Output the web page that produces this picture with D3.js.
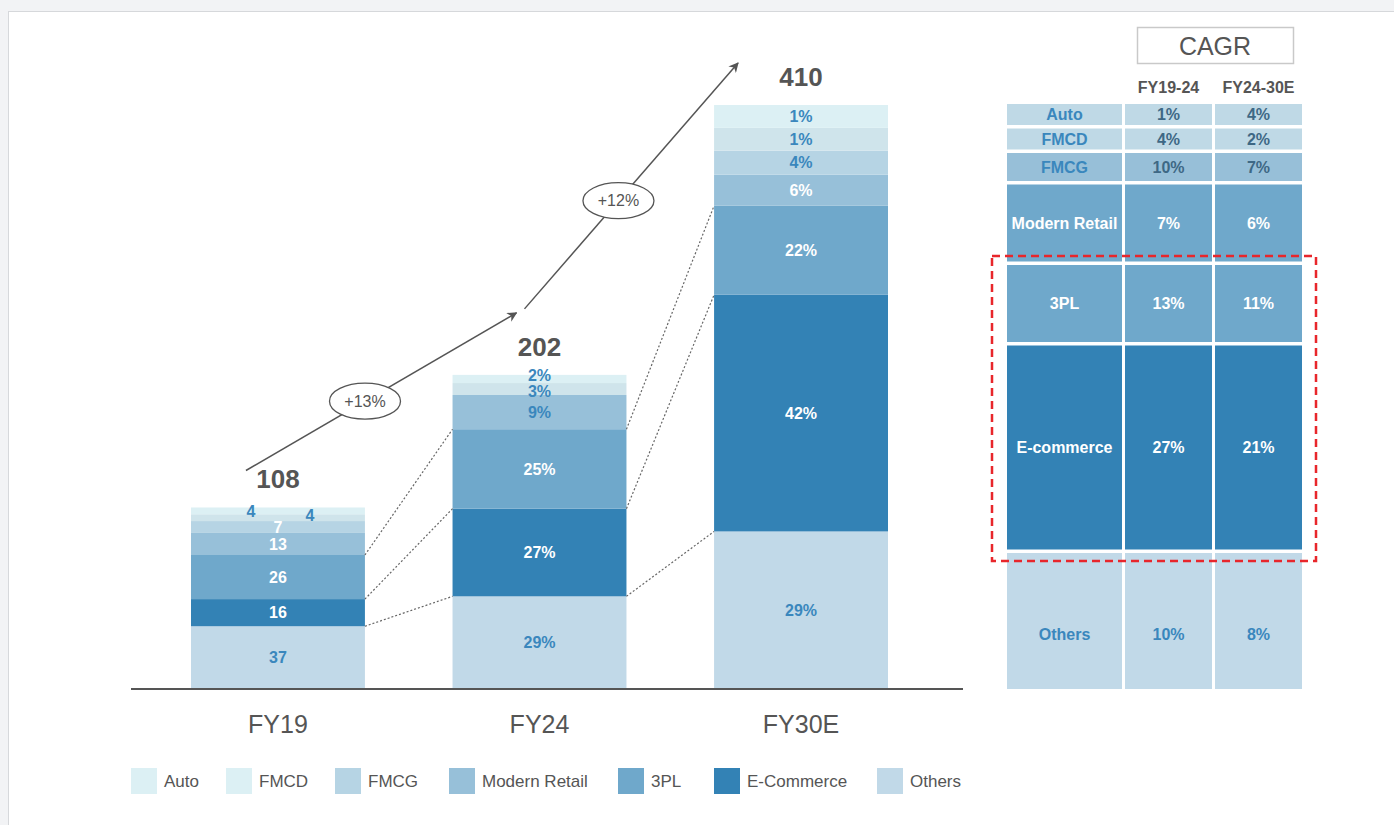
<!DOCTYPE html>
<html>
<head>
<meta charset="utf-8">
<script src="https://cdn.jsdelivr.net/npm/d3@7"></script>
<style>
  html, body { margin: 0; padding: 0; background: #f2f3f5; }
  svg { display: block; font-family: "Liberation Sans", Arial, sans-serif; }
</style>
</head>
<body>
<div id="chart"></div>
<script>
// Data
const categories = ["Auto", "FMCD", "FMCG", "Modern Retail", "3PL", "E-commerce", "Others"];
const legendLabels = ["Auto", "FMCD", "FMCG", "Modern Retail", "3PL", "E-Commerce", "Others"];
const years = ["FY19", "FY24", "FY30E"];
const totals = [108, 202, 410];

// segment sizes per bar (Auto .. Others), as drawn in the picture
const fy19Values = [4, 4, 7, 13, 26, 16, 37];
const fy24Values = [2.6, 3.8, 0, 10.9, 25.3, 27.9, 29.5];
const fy30eValues = [3.9, 3.9, 4.1, 5.3, 15.2, 40.4, 26.9];

// printed segment labels
const fy19Labels = ["4", "4", "7", "13", "26", "16", "37"];
const fy24Labels = ["2%", "3%", "", "9%", "25%", "27%", "29%"];
const fy30eLabels = ["1%", "1%", "4%", "6%", "22%", "42%", "29%"];

const growthLabels = ["+13%", "+12%"];

const cagrPeriods = ["FY19-24", "FY24-30E"];
const cagrRows = ["Auto", "FMCD", "FMCG", "Modern Retail", "3PL", "E-commerce", "Others"];
const cagr1924 = ["1%", "4%", "10%", "7%", "13%", "27%", "10%"];
const cagr2430 = ["4%", "2%", "7%", "6%", "11%", "21%", "8%"];

// Styles / layout
const colors = ["#dcf0f4", "#cfe4eb", "#b6d4e4", "#97c0d9", "#6fa8cb", "#3382b5", "#c1d9e8"];
const blue = "#3a87bd";
const grey = "#555";
const whiteLabels = [
    ["FMCG", "Modern Retail", "3PL", "E-commerce"],
    ["3PL", "E-commerce"],
    ["Modern Retail", "3PL", "E-commerce"]
];
const labelShift = { "0-Auto": [-27, 0], "0-FMCD": [32, -2], "1-Auto": [0, -4], "1-FMCD": [0, 2] };

const tableFill = ["#bfd9e6", "#bfd9e6", "#97bfd8", "#6fa8cb", "#6fa8cb", "#3382b5", "#c1d9e8"];
const tableLabelColor = [blue, blue, blue, "#fff", "#fff", "#fff", blue];
const tableValueColor = ["#3e6885", "#3e6885", "#3e6885", "#fff", "#fff", "#fff", blue];
const tableTextDy = [0, 0, 0, 0, 0, 0, 13];
const rowWeights = [21, 21, 28, 77, 77, 204, 136];
const colWidths = [115, 87, 87];

const width = 1394, height = 825;
const baseline = 689;

const svg = d3.select("#chart").append("svg")
    .attr("width", width)
    .attr("height", height);

// panel
svg.append("rect")
    .attr("x", 8.5).attr("y", 11.5)
    .attr("width", 1420).attr("height", 840)
    .attr("fill", "#fff")
    .attr("stroke", "#d6d8db");

svg.append("defs").append("marker")
    .attr("id", "arrow")
    .attr("viewBox", "0 0 10 10")
    .attr("refX", 9).attr("refY", 5)
    .attr("markerWidth", 10).attr("markerHeight", 10)
    .attr("markerUnits", "userSpaceOnUse")
    .attr("orient", "auto")
    .append("path")
    .attr("d", "M0,0 L10,5 L0,10 L3,5 Z")
    .attr("fill", grey);

// Scales
const xScale = d3.scaleBand()
    .domain(years)
    .range([191, 888])
    .paddingInner(0.335)
    .paddingOuter(0);

const hScale = d3.scalePow()
    .exponent(0.876)
    .domain([0, 410])
    .range([0, 584]);

const barValues = [fy19Values, fy24Values, fy30eValues];
const barLabels = [fy19Labels, fy24Labels, fy30eLabels];

// build segments stacked from the bottom (Others first)
const bars = years.map((year, b) => {
    const vals = barValues[b];
    const sum = d3.sum(vals);
    const top = baseline - hScale(totals[b]);
    const seg = d3.scaleLinear().domain([0, sum]).range([baseline, top]);
    let acc = 0;
    const segs = [];
    for (let i = categories.length - 1; i >= 0; i--) {
        const y0 = seg(acc);
        acc += vals[i];
        const y1 = seg(acc);
        segs.push({ cat: categories[i], idx: i, y0, y1, label: barLabels[b][i] });
    }
    return { year, b, top, segs, x: xScale(year), w: xScale.bandwidth() };
});

const chart = svg.append("g");

bars.forEach(bar => {
    const g = chart.append("g");
    g.selectAll("rect")
        .data(bar.segs.filter(d => d.y0 - d.y1 > 0))
        .enter()
        .append("rect")
        .attr("x", bar.x)
        .attr("width", bar.w)
        .attr("y", d => d.y1)
        .attr("height", d => d.y0 - d.y1)
        .attr("fill", d => colors[d.idx]);

    g.selectAll("text.seg")
        .data(bar.segs.filter(d => d.label))
        .enter()
        .append("text")
        .attr("class", "seg")
        .attr("x", d => bar.x + bar.w / 2 + (labelShift[bar.b + "-" + d.cat] || [0, 0])[0])
        .attr("y", d => (d.y0 + d.y1) / 2 + (labelShift[bar.b + "-" + d.cat] || [0, 0])[1])
        .attr("dy", "0.36em")
        .attr("text-anchor", "middle")
        .attr("font-size", 16)
        .attr("font-weight", "bold")
        .attr("fill", d => whiteLabels[bar.b].includes(d.cat) ? "#fff" : blue)
        .text(d => d.label);

    // total above bar
    chart.append("text")
        .attr("x", bar.x + bar.w / 2)
        .attr("y", bar.top - 19)
        .attr("text-anchor", "middle")
        .attr("font-size", 26)
        .attr("font-weight", "bold")
        .attr("fill", grey)
        .text(totals[bar.b]);

    // category label
    chart.append("text")
        .attr("x", bar.x + bar.w / 2)
        .attr("y", baseline + 44)
        .attr("text-anchor", "middle")
        .attr("font-size", 25)
        .attr("fill", grey)
        .text(bar.year);
});

// dotted connectors between bars
const linkCats = ["Others", "E-commerce", "3PL"];
for (let b = 0; b < bars.length - 1; b++) {
    const a = bars[b], c = bars[b + 1];
    linkCats.forEach(cat => {
        const sa = a.segs.find(s => s.cat === cat);
        const sc = c.segs.find(s => s.cat === cat);
        chart.append("line")
            .attr("x1", a.x + a.w).attr("y1", sa.y1)
            .attr("x2", c.x).attr("y2", sc.y1)
            .attr("stroke", "#666")
            .attr("stroke-width", 1.2)
            .attr("stroke-dasharray", "2,2");
    });
}

// baseline
chart.append("line")
    .attr("x1", 131).attr("x2", 963)
    .attr("y1", baseline).attr("y2", baseline)
    .attr("stroke", grey)
    .attr("stroke-width", 2);

// growth arrows
const arrowOffsets = [
    { sx: -32, sy: -37, ex: -23, ey: -62 },
    { sx: -15, sy: -66, ex: -63, ey: -42 }
];
growthLabels.forEach((lbl, i) => {
    const a = bars[i], c = bars[i + 1];
    const o = arrowOffsets[i];
    const x1 = a.x + a.w / 2 + o.sx, y1 = a.top + o.sy;
    const x2 = c.x + c.w / 2 + o.ex, y2 = c.top + o.ey;
    chart.append("line")
        .attr("x1", x1).attr("y1", y1)
        .attr("x2", x2).attr("y2", y2)
        .attr("stroke", grey)
        .attr("stroke-width", 1.5)
        .attr("marker-end", "url(#arrow)");
    const t = 0.44;
    const ex = x1 + (x2 - x1) * t, ey = y1 + (y2 - y1) * t;
    chart.append("ellipse")
        .attr("cx", ex).attr("cy", ey)
        .attr("rx", 35.5).attr("ry", 18)
        .attr("fill", "#fff")
        .attr("stroke", grey)
        .attr("stroke-width", 1.3);
    chart.append("text")
        .attr("x", ex).attr("y", ey)
        .attr("dy", "0.36em")
        .attr("text-anchor", "middle")
        .attr("font-size", 16)
        .attr("fill", grey)
        .text(lbl);
});

// legend
const legendX = [131, 226, 335, 449, 618, 714, 877];
const legend = svg.append("g")
    .selectAll("g")
    .data(legendLabels)
    .enter()
    .append("g")
    .attr("transform", (_, i) => `translate(${legendX[i]}, 768)`);

legend.append("rect")
    .attr("width", 26)
    .attr("height", 26)
    .attr("fill", (_, i) => i === 1 ? colors[0] : colors[i]);

legend.append("text")
    .attr("x", 33)
    .attr("y", 13)
    .attr("dy", "0.36em")
    .attr("font-size", 17)
    .attr("fill", grey)
    .text(d => d);

// CAGR table
const table = svg.append("g");
table.append("rect")
    .attr("x", 1137.5).attr("y", 27.5)
    .attr("width", 156).attr("height", 36)
    .attr("fill", "#fff")
    .attr("stroke", "#c9c9c9")
    .attr("stroke-width", 1.5);
table.append("text")
    .attr("x", 1215).attr("y", 46)
    .attr("dy", "0.36em")
    .attr("text-anchor", "middle")
    .attr("font-size", 25)
    .attr("fill", grey)
    .text("CAGR");

const colGap = 3;
const colX = [];
let cx = 1007;
colWidths.forEach(w => { colX.push(cx); cx += w + colGap; });

cagrPeriods.forEach((p, i) => {
    table.append("text")
        .attr("x", colX[i + 1] + colWidths[i + 1] / 2)
        .attr("y", 87)
        .attr("dy", "0.36em")
        .attr("text-anchor", "middle")
        .attr("font-size", 16)
        .attr("font-weight", "bold")
        .attr("fill", grey)
        .text(p);
});

const rowGap = 3.5;
const tableTop = 104, tableBottom = 689;
const rowScale = d3.scaleLinear()
    .domain([0, d3.sum(rowWeights)])
    .range([0, tableBottom - tableTop - rowGap * (rowWeights.length - 1)]);

let ry = tableTop;
cagrRows.forEach((row, r) => {
    const h = rowScale(rowWeights[r]);
    const cells = [row, cagr1924[r], cagr2430[r]];
    cells.forEach((txt, c) => {
        table.append("rect")
            .attr("x", colX[c]).attr("y", ry)
            .attr("width", colWidths[c]).attr("height", h)
            .attr("fill", tableFill[r]);
        table.append("text")
            .attr("x", colX[c] + colWidths[c] / 2)
            .attr("y", ry + h / 2 + tableTextDy[r])
            .attr("dy", "0.36em")
            .attr("text-anchor", "middle")
            .attr("font-size", 16)
            .attr("font-weight", "bold")
            .attr("fill", c === 0 ? tableLabelColor[r] : tableValueColor[r])
            .text(txt);
    });
    ry += h + rowGap;
});

// red dashed highlight around 3PL and E-commerce
svg.append("rect")
    .attr("x", 992).attr("y", 256)
    .attr("width", 324).attr("height", 305)
    .attr("fill", "none")
    .attr("stroke", "#e8262b")
    .attr("stroke-width", 2.5)
    .attr("stroke-dasharray", "8,5");
</script>
</body>
</html>
